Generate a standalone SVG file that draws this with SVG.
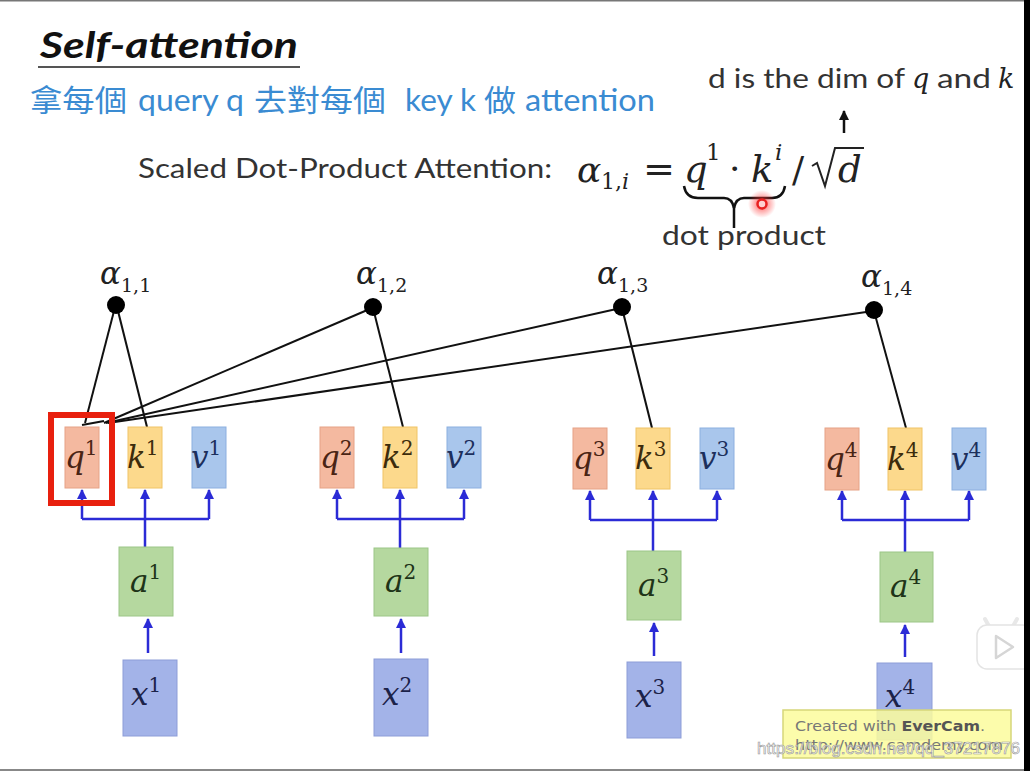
<svg xmlns="http://www.w3.org/2000/svg" width="1030" height="771" viewBox="0 0 1030 771">
<style>
.sans{font-family:Lato,"Open Sans","Liberation Sans",sans-serif;fill:#333}
.cjk{font-family:Lato,"Noto Sans CJK TC","Noto Sans CJK SC",sans-serif;fill:#3a8bd2;font-size:30px}
.math{font-family:"DejaVu Serif","Liberation Serif",serif;font-style:italic;fill:#222}
.up{font-style:normal}
.bq{fill:#f4b9a0;stroke:#e6a286;stroke-width:1}
.bk{fill:#fcd98c;stroke:#f0c466;stroke-width:1}
.bv{fill:#a9c6ec;stroke:#8cafe0;stroke-width:1}
.ba{fill:#b5d89f;stroke:#9cc687;stroke-width:1}
.bx{fill:#a3b3e8;stroke:#8d9dd8;stroke-width:1}
.lbl{font-family:"DejaVu Serif","Liberation Serif",serif;font-style:italic;font-size:31px}
.sup{font-style:normal;font-size:20px}
.blue{stroke:#2b2bd6;stroke-width:2.5;fill:none}
.blk{stroke:#111;stroke-width:2;fill:none}
.dot{fill:#000}
</style>
<defs>
<marker id="ab" viewBox="0 0 10 10" refX="9" refY="5" markerWidth="4" markerHeight="4" orient="auto" markerUnits="strokeWidth"><path d="M0,0 L10,5 L0,10 z" fill="#2b2bd6"/></marker>
<marker id="ak" viewBox="0 0 10 10" refX="9" refY="5" markerWidth="4" markerHeight="4" orient="auto" markerUnits="strokeWidth"><path d="M0,0 L10,5 L0,10 z" fill="#111"/></marker>
<radialGradient id="glow"><stop offset="0" stop-color="#ff3030" stop-opacity="0.8"/><stop offset="1" stop-color="#ff3030" stop-opacity="0"/></radialGradient>
</defs>
<rect width="1030" height="771" fill="#fff"/>

<g id="title">
<text class="sans" x="40" y="58" font-size="36" font-weight="bold" font-style="italic" style="fill:#111" textLength="258" lengthAdjust="spacingAndGlyphs">Self-attention</text>
<line x1="38" y1="67" x2="300" y2="67" stroke="#555" stroke-width="2"/>
</g>

<g id="subtitle">
<text class="cjk" x="30" y="111" textLength="97" lengthAdjust="spacingAndGlyphs">拿每個</text>
<text class="cjk" x="138" y="111" textLength="106" lengthAdjust="spacingAndGlyphs">query q</text>
<text class="cjk" x="254" y="111" textLength="132" lengthAdjust="spacingAndGlyphs">去對每個</text>
<text class="cjk" x="405" y="111" textLength="71" lengthAdjust="spacingAndGlyphs">key k</text>
<text class="cjk" x="484" y="111" textLength="32" lengthAdjust="spacingAndGlyphs">做</text>
<text class="cjk" x="525" y="111" textLength="130" lengthAdjust="spacingAndGlyphs">attention</text>
</g>

<g id="dim-note">
<text class="sans" x="708" y="88" font-size="27" textLength="197" lengthAdjust="spacingAndGlyphs">d is the dim of</text>
<text class="math" x="912" y="88" font-size="27">q</text>
<text class="sans" x="937" y="88" font-size="27" textLength="54" lengthAdjust="spacingAndGlyphs">and</text>
<text class="math" x="998" y="88" font-size="27">k</text>
<line x1="844" y1="133" x2="844" y2="111" stroke="#111" stroke-width="2.5" marker-end="url(#ak)"/>
</g>

<g id="formula">
<text class="sans" x="138" y="178" font-size="27" textLength="414" lengthAdjust="spacingAndGlyphs">Scaled Dot-Product Attention:</text>
<text class="math" x="577" y="182" font-size="36">α</text>
<text class="math" x="601" y="189" font-size="22"><tspan class="up">1,</tspan>i</text>
<text class="math up" x="643" y="182" font-size="38" textLength="32" lengthAdjust="spacingAndGlyphs">=</text>
<text class="math" x="684" y="182" font-size="37">q</text>
<text class="math up" x="706" y="160" font-size="23">1</text>
<text class="math up" x="729" y="181" font-size="36">·</text>
<text class="math" x="751" y="182" font-size="37">k</text>
<text class="math" x="775" y="160" font-size="23">i</text>
<text class="math up" x="792" y="182" font-size="36">/</text>
<polyline points="812,166 817,163 825,186 835,148 864,148" fill="none" stroke="#222" stroke-width="2"/>
<text class="math" x="838" y="182" font-size="37">d</text>
<path d="M684,186 Q686,198 698,198 H724 Q732,198 734,208 Q736,198 744,198 H772 Q783,198 785,186" stroke="#111" stroke-width="2.5" fill="none"/>
<line x1="734" y1="207" x2="734" y2="228" stroke="#111" stroke-width="2.5"/>
<text class="sans" x="662" y="245" font-size="27" textLength="164" lengthAdjust="spacingAndGlyphs">dot product</text>
<circle cx="762" cy="204" r="14" fill="url(#glow)"/>
<circle cx="762" cy="204" r="4.5" fill="#ffd0d0" stroke="#e82020" stroke-width="2.5"/>
</g>

<g id="connectors">
<line class="blk" x1="85" y1="423" x2="114" y2="311"/>
<line class="blk" x1="147" y1="427" x2="118" y2="311"/>
<line class="blk" x1="82" y1="425" x2="104" y2="421" stroke-width="3"/>
<line class="blk" x1="104" y1="423" x2="372" y2="308"/>
<line class="blk" x1="106" y1="423" x2="621" y2="308"/>
<line class="blk" x1="108" y1="423" x2="873" y2="311"/>
<line class="blk" x1="403" y1="427" x2="373" y2="308"/>
<line class="blk" x1="652" y1="428" x2="622" y2="308"/>
<line class="blk" x1="906" y1="428" x2="874" y2="311"/>
<path class="blue" d="M82,519 H209"/>
<path class="blue" d="M82,519 V490" marker-end="url(#ab)"/>
<path class="blue" d="M209,519 V490" marker-end="url(#ab)"/>
<path class="blue" d="M145,547 V490" marker-end="url(#ab)"/>
<path class="blue" d="M148,653 V619" marker-end="url(#ab)"/>
<path class="blue" d="M337,519 H464"/>
<path class="blue" d="M337,519 V490" marker-end="url(#ab)"/>
<path class="blue" d="M464,519 V490" marker-end="url(#ab)"/>
<path class="blue" d="M400,548 V490" marker-end="url(#ab)"/>
<path class="blue" d="M401,653 V619" marker-end="url(#ab)"/>
<path class="blue" d="M590,520 H717"/>
<path class="blue" d="M590,520 V491" marker-end="url(#ab)"/>
<path class="blue" d="M717,520 V491" marker-end="url(#ab)"/>
<path class="blue" d="M653,551 V491" marker-end="url(#ab)"/>
<path class="blue" d="M654,656 V623" marker-end="url(#ab)"/>
<path class="blue" d="M842,520 H969"/>
<path class="blue" d="M842,520 V491" marker-end="url(#ab)"/>
<path class="blue" d="M969,520 V491" marker-end="url(#ab)"/>
<path class="blue" d="M905,552 V491" marker-end="url(#ab)"/>
<path class="blue" d="M905,657 V625" marker-end="url(#ab)"/>
</g>

<g id="alpha11"><circle class="dot" cx="116" cy="305" r="9"/><text class="math" x="100" y="284" font-size="31">α</text><text class="math up" x="121" y="292" font-size="19">1,1</text></g>
<g id="alpha12"><circle class="dot" cx="373" cy="307" r="9"/><text class="math" x="356" y="284" font-size="31">α</text><text class="math up" x="377" y="292" font-size="19">1,2</text></g>
<g id="alpha13"><circle class="dot" cx="622" cy="307" r="9"/><text class="math" x="597" y="284" font-size="31">α</text><text class="math up" x="618" y="292" font-size="19">1,3</text></g>
<g id="alpha14"><circle class="dot" cx="874" cy="310" r="9"/><text class="math" x="861" y="287" font-size="31">α</text><text class="math up" x="882" y="295" font-size="19">1,4</text></g>

<g id="q1"><rect class="bq" x="65" y="427" width="34" height="61"/><text class="lbl" x="65" y="468" fill="#4a2414">q<tspan class="sup" dy="-13">1</tspan></text></g>
<g id="q1-highlight"><rect x="51" y="415" width="61" height="88" fill="none" stroke="#e8200e" stroke-width="6"/></g>
<g id="k1"><rect class="bk" x="128" y="427" width="34" height="61"/><text class="lbl" x="127" y="468" fill="#3c2c0c">k<tspan class="sup" dy="-13">1</tspan></text></g>
<g id="v1"><rect class="bv" x="192" y="427" width="34" height="61"/><text class="lbl" x="191" y="468" fill="#1c2f5c">v<tspan class="sup" dy="-13">1</tspan></text></g>
<g id="a1"><rect class="ba" x="119" y="547" width="54" height="69"/><text class="lbl" x="130" y="592" fill="#1e3418">a<tspan class="sup" dy="-13">1</tspan></text></g>
<g id="x1"><rect class="bx" x="123" y="660" width="54" height="76"/><text class="lbl" x="131" y="705" fill="#1c2248">x<tspan class="sup" dy="-13">1</tspan></text></g>

<g id="q2"><rect class="bq" x="320" y="427" width="34" height="61"/><text class="lbl" x="320" y="468" fill="#4a2414">q<tspan class="sup" dy="-13">2</tspan></text></g>
<g id="k2"><rect class="bk" x="383" y="427" width="34" height="61"/><text class="lbl" x="382" y="468" fill="#3c2c0c">k<tspan class="sup" dy="-13">2</tspan></text></g>
<g id="v2"><rect class="bv" x="447" y="427" width="34" height="61"/><text class="lbl" x="446" y="468" fill="#1c2f5c">v<tspan class="sup" dy="-13">2</tspan></text></g>
<g id="a2"><rect class="ba" x="374" y="548" width="54" height="68"/><text class="lbl" x="385" y="592" fill="#1e3418">a<tspan class="sup" dy="-13">2</tspan></text></g>
<g id="x2"><rect class="bx" x="374" y="659" width="54" height="77"/><text class="lbl" x="382" y="705" fill="#1c2248">x<tspan class="sup" dy="-13">2</tspan></text></g>

<g id="q3"><rect class="bq" x="573" y="428" width="34" height="61"/><text class="lbl" x="573" y="469" fill="#4a2414">q<tspan class="sup" dy="-13">3</tspan></text></g>
<g id="k3"><rect class="bk" x="636" y="428" width="34" height="61"/><text class="lbl" x="635" y="469" fill="#3c2c0c">k<tspan class="sup" dy="-13">3</tspan></text></g>
<g id="v3"><rect class="bv" x="700" y="428" width="34" height="61"/><text class="lbl" x="699" y="469" fill="#1c2f5c">v<tspan class="sup" dy="-13">3</tspan></text></g>
<g id="a3"><rect class="ba" x="627" y="551" width="54" height="69"/><text class="lbl" x="638" y="596" fill="#1e3418">a<tspan class="sup" dy="-13">3</tspan></text></g>
<g id="x3"><rect class="bx" x="627" y="662" width="54" height="76"/><text class="lbl" x="635" y="707" fill="#1c2248">x<tspan class="sup" dy="-13">3</tspan></text></g>

<g id="q4"><rect class="bq" x="825" y="428" width="34" height="62"/><text class="lbl" x="825" y="470" fill="#4a2414">q<tspan class="sup" dy="-13">4</tspan></text></g>
<g id="k4"><rect class="bk" x="888" y="428" width="34" height="62"/><text class="lbl" x="887" y="470" fill="#3c2c0c">k<tspan class="sup" dy="-13">4</tspan></text></g>
<g id="v4"><rect class="bv" x="952" y="428" width="34" height="62"/><text class="lbl" x="951" y="470" fill="#1c2f5c">v<tspan class="sup" dy="-13">4</tspan></text></g>
<g id="a4"><rect class="ba" x="880" y="552" width="53" height="70"/><text class="lbl" x="890" y="597" fill="#1e3418">a<tspan class="sup" dy="-13">4</tspan></text></g>
<g id="x4"><rect class="bx" x="877" y="663" width="55" height="77"/><text class="lbl" x="885" y="707" fill="#1c2248">x<tspan class="sup" dy="-13">4</tspan></text></g>

<g id="watermarks">
<rect x="783" y="710" width="228" height="48" fill="#fbfb9c" fill-opacity="0.85" stroke="#d6d67a" stroke-width="1.5"/>
<text x="795" y="731" font-family="'DejaVu Sans',Verdana,sans-serif" font-size="14" fill="#777" textLength="190" lengthAdjust="spacingAndGlyphs">Created with <tspan font-weight="bold" fill="#555">EverCam</tspan>.</text>
<text x="795" y="750" font-family="'DejaVu Sans',Verdana,sans-serif" font-size="14" fill="#777" textLength="208" lengthAdjust="spacingAndGlyphs">http://www.camdemy.com</text>
<text x="757" y="754" font-family="'Liberation Sans',Arial,sans-serif" font-size="16" fill="#fff" fill-opacity="0.8" stroke="#999" stroke-width="0.6" textLength="263" lengthAdjust="spacingAndGlyphs">https://blog.csdn.net/qq_37217876</text>
<g id="play-icon">
<path d="M990,628 L985,619 M1012,628 L1017,619" stroke="#e8e8e8" stroke-width="4" stroke-linecap="round"/>
<rect x="977" y="625" width="56" height="44" rx="10" fill="#fff" stroke="#e4e4e4" stroke-width="1.5"/>
<path d="M996,636 L1013,647 L996,658 Z" fill="none" stroke="#d6d6d6" stroke-width="2.5" stroke-linejoin="round"/>
</g>
</g>

<g id="frame">
<rect x="0" y="0" width="1030" height="1.5" fill="#777"/>
<rect x="0" y="769" width="1030" height="2" fill="#888"/>
<rect x="1024" y="0" width="6" height="771" fill="#000"/>
</g>
</svg>
